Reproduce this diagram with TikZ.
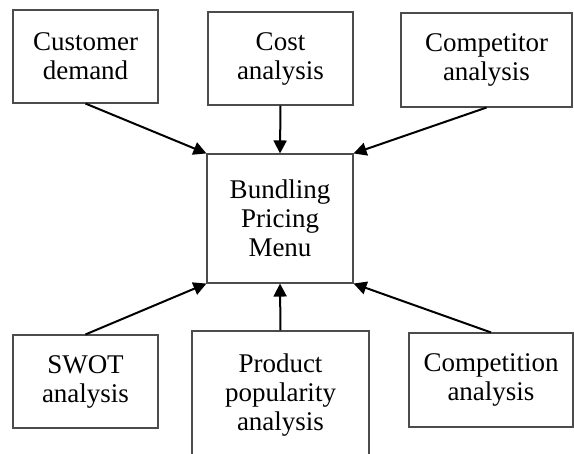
\documentclass[tikz,border=0pt]{standalone}
\usepackage{fontspec}
\setmainfont{Liberation Serif}
\usetikzlibrary{arrows.meta}

\begin{document}
\begin{tikzpicture}[>={Triangle[length=13pt,width=13pt]},x=1pt,y=-1pt,
    main node/.style={rectangle,draw=black!70,line width=1.1pt,align=center,
      inner sep=0pt,font=\fontsize{27}{29}\selectfont}]
    \useasboundingbox (0,0) rectangle (574,454);
    \node[main node,minimum width=146pt,minimum height=129pt] (1) at (280,218.5) {Bundling\\Pricing\\Menu};
    \node[main node,minimum width=145pt,minimum height=93pt] (2) at (85.5,56.5) {Customer\\demand};
    \node[main node,minimum width=145pt,minimum height=93pt] (3) at (280.5,58.5) {Cost\\analysis};
    \node[main node,minimum width=171pt,minimum height=94pt] (4) at (486.5,60) {Competitor\\analysis};
    \node[main node,minimum width=145pt,minimum height=93pt] (5) at (85.5,381.5) {SWOT\\analysis};
    \node[main node,minimum width=177pt,minimum height=128pt] (6) at (280.5,395) {Product\\popularity\\analysis};
    \node[main node,minimum width=164pt,minimum height=94pt] (7) at (491,380) {Competition\\analysis};
    \path[->,line width=2pt]
    (2.south) edge (1.north west)
    (3.south) edge (1.north)
    (4.south) edge (1.north east)
    (5.north) edge (1.south west)
    (6.north) edge (1.south)
    (7.north) edge (1.south east);
\end{tikzpicture}
\end{document}
